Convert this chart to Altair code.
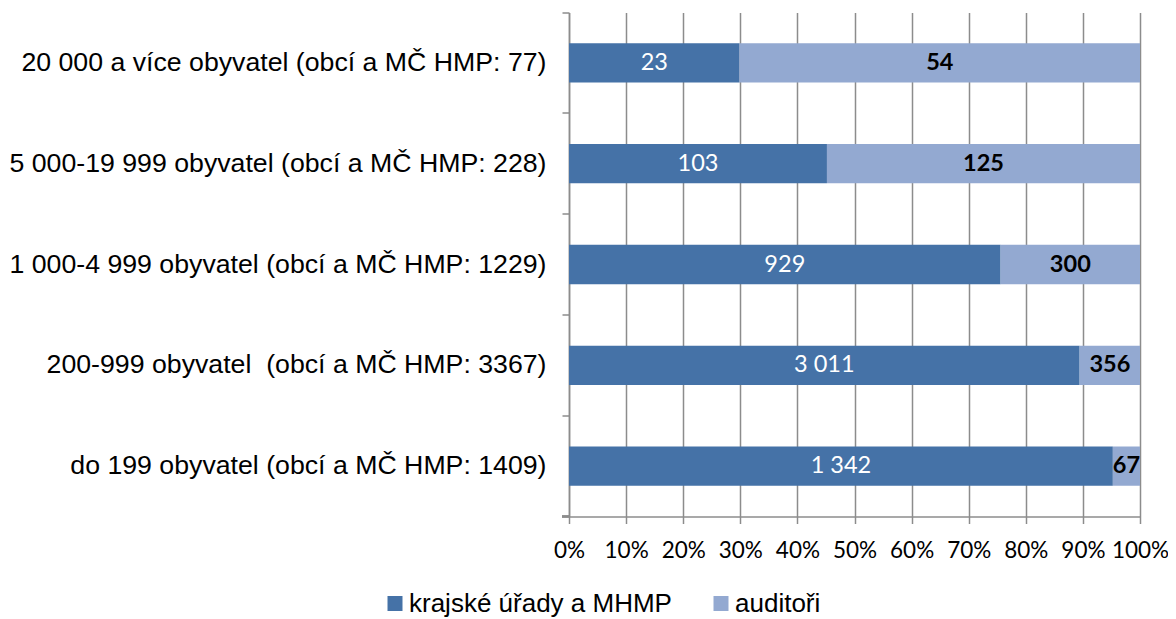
import altair as alt
import pandas as pd

categories = [
    "20 000 a více obyvatel (obcí a MČ HMP: 77)",
    "5 000-19 999 obyvatel (obcí a MČ HMP: 228)",
    "1 000-4 999 obyvatel (obcí a MČ HMP: 1229)",
    "200-999 obyvatel\u00a0 (obcí a MČ HMP: 3367)",
    "do 199 obyvatel (obcí a MČ HMP: 1409)",
]
series = ["krajské úřady a MHMP", "auditoři"]
kraje = [23, 103, 929, 3011, 1342]
auditori = [54, 125, 300, 356, 67]
colors = ["#4572A7", "#93A9D1"]

rows = []
for i, c in enumerate(categories):
    rows.append({"category": c, "series": series[0], "value": kraje[i], "order": 0})
    rows.append({"category": c, "series": series[1], "value": auditori[i], "order": 1})
df = pd.DataFrame(rows)

W, H = 571, 504
GRID = "#8c8c8c"

base = (
    alt.Chart(df)
    .transform_joinaggregate(total="sum(value)", groupby=["category"])
    .transform_calculate(frac="datum.value / datum.total")
    .transform_stack(stack="frac", groupby=["category"], as_=["x0", "x1"],
                     sort=[alt.SortField("order", order="ascending")])
    .transform_calculate(mid="(datum.x0 + datum.x1) / 2",
                         label="replace(format(datum.value, ','), ',', ' ')")
)

yenc = alt.Y(
    "category:N", sort=categories,
    scale=alt.Scale(paddingInner=0, paddingOuter=0),
    axis=alt.Axis(title=None, bandPosition=0, grid=False, ticks=True, tickSize=7,
                  tickColor=GRID, tickWidth=1.5, domainColor=GRID, domainWidth=1.5,
                  labelFont="Liberation Sans", labelFontSize=26.7, labelColor="#000000",
                  labelPadding=16, labelLimit=800),
)

bars = base.mark_bar(height={"band": 0.39}).encode(
    x=alt.X("x0:Q", scale=alt.Scale(domain=[0, 1], nice=False, zero=True),
            axis=alt.Axis(title=None, format="%", values=[i / 10 for i in range(11)],
                          grid=True, gridColor=GRID, gridWidth=1.5, tickColor=GRID,
                          tickWidth=1.5, tickSize=7, domainColor=GRID, domainWidth=1.5,
                          labelFont="Lato", labelFontSize=22.5, labelColor="#000000",
                          labelPadding=16, labelFlush=False)),
    x2="x1:Q",
    y=yenc,
    color=alt.Color("series:N", scale=alt.Scale(domain=series, range=colors),
                    legend=alt.Legend(title=None, orient="none", legendX=-187, legendY=578,
                                      direction="horizontal", symbolType="square",
                                      symbolSize=225, symbolStrokeWidth=0,
                                      labelFont="Liberation Sans", labelFontSize=26,
                                      labelColor="#000000", labelOffset=1,
                                      columnPadding=36, labelLimit=600)),
)

text_white = base.transform_filter(alt.datum.series == series[0]).mark_text(
    font="Lato", fontSize=23.5, color="#ffffff"
).encode(x=alt.X("mid:Q"), y=alt.Y("category:N", sort=categories), text="label:N")

text_bold = base.transform_filter(alt.datum.series == series[1]).mark_text(
    font="Lato", fontSize=23.5, fontWeight="bold", color="#000000"
).encode(x=alt.X("mid:Q"), y=alt.Y("category:N", sort=categories), text="label:N")

extra_tick = alt.Chart(df).mark_rule(color=GRID, strokeWidth=1.5).encode(
    x=alt.value(-7), x2=alt.value(0), y=alt.value(H)
)

chart = (
    alt.layer(bars, text_white, text_bold, extra_tick)
    .properties(width=W, height=H,
                padding={"left": 561, "top": 4.5, "right": 28, "bottom": 102},
                autosize=alt.AutoSizeParams(type="none"))
    .configure_view(stroke=None)
)

chart.save("out.html", embed_options={"renderer": "svg", "actions": False})
